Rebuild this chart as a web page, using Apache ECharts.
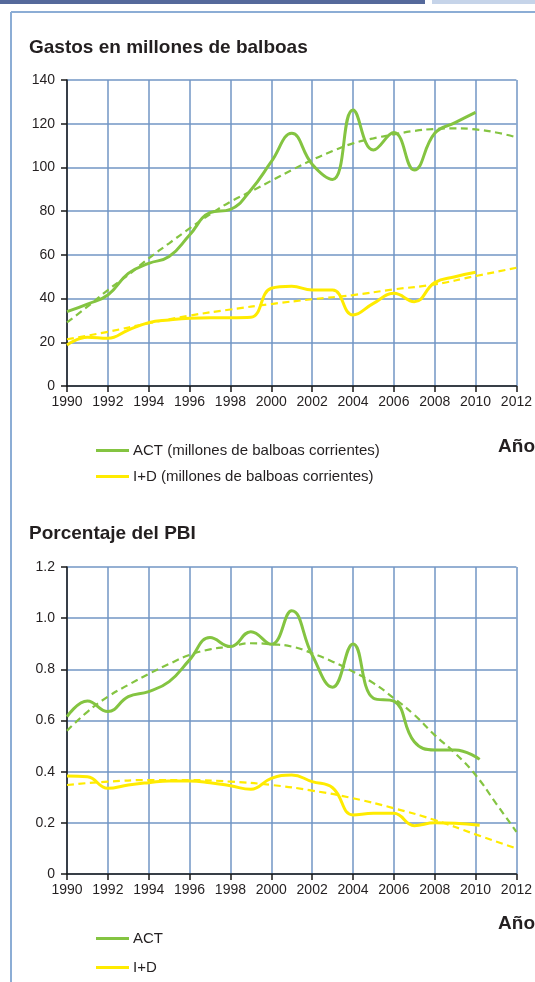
<!DOCTYPE html>
<html>
<head>
<meta charset="utf-8">
<script src="https://cdn.jsdelivr.net/npm/echarts@6/dist/echarts.min.js"></script>
<style>
html,body{margin:0;padding:0;background:#fff;}
#c{width:535px;height:982px;}
</style>
</head>
<body>
<div id="c"></div>
<script>
// ---- Data ----
const yearsGasto = [1990,1991,1992,1993,1994,1995,1996,1997,1998,1999,2000,2001,2002,2003,2004,2005,2006,2007,2008,2009,2010];
const actGasto = [34,37.5,41.6,51.5,56.1,59.2,69.1,79.3,80.8,89.7,102.6,115.6,101.5,94.5,126.3,108,116,98.8,115.6,120.5,125.2];
const idGasto = [18.8,22.3,21.8,25.6,29,30.2,31,31.2,31.2,31.4,44.7,45.6,43.9,43.9,32.5,37.8,42.4,38.6,47.3,50,52];

const trendYears = [1990,1991,1992,1993,1994,1995,1996,1997,1998,1999,2000,2001,2002,2003,2004,2005,2006,2007,2008,2009,2010,2011,2012];
const actGastoTrend = [29.1,36.3,43.9,50.8,58.4,65.3,72.1,78.5,84.3,89,93.9,98.8,103.4,107.5,111,113.3,115.1,116.7,117.6,117.9,117.4,116,113.8];
const trendYears2 = [1990,1992,1994,1996,1998,2000,2002,2004,2006,2008,2010,2012];
const idGastoTrend = [21.4,24.8,28.7,32.2,35,37.5,39.7,41.6,44.2,46.5,50.3,54.1];

const yearsPct = [1990,1991,1992,1993,1994,1995,1996,1997,1998,1999,2000,2001,2002,2003,2004,2005,2006,2007,2008,2009,2010.2];
const actPct = [0.615,0.676,0.635,0.693,0.713,0.752,0.837,0.924,0.889,0.947,0.898,1.029,0.856,0.73,0.899,0.687,0.676,0.517,0.485,0.485,0.448];
const idPct = [0.383,0.38,0.335,0.348,0.357,0.364,0.364,0.357,0.345,0.331,0.374,0.387,0.361,0.337,0.231,0.237,0.237,0.189,0.2,0.198,0.191];
const actPctTrend = [0.56,0.634,0.693,0.739,0.782,0.821,0.856,0.878,0.889,0.902,0.898,0.889,0.863,0.83,0.791,0.746,0.687,0.622,0.543,0.472,0.387,0.276,0.165];
const idPctTrend = [0.348,0.361,0.367,0.367,0.361,0.348,0.326,0.296,0.257,0.211,0.155,0.1];

const xTicks = {min:1990, max:2012, interval:2};
const names = {
  act1: 'ACT (millones de balboas corrientes)',
  id1: 'I+D (millones de balboas corrientes)',
  act2: 'ACT',
  id2: 'I+D'
};

// ---- Styles ----
const GREEN = '#84c441';
const YELLOW = '#ffeb00';
const GRIDC = '#7296c4';
const TXT = '#231f20';
const FONT = '"Liberation Sans", Arial, sans-serif';

function zip(xs, ys){ return xs.map((x,i)=>[x, ys[i]]); }

function xAxis(gi){
  return {
    type:'value', gridIndex:gi, min:xTicks.min, max:xTicks.max, interval:xTicks.interval,
    axisLine:{show:true, onZero:false, lineStyle:{color:'#1a1a1a', width:1.5}},
    axisTick:{show:true, length:6, lineStyle:{color:'#1a1a1a', width:1.5}},
    axisLabel:{color:TXT, fontSize:14, fontFamily:FONT, margin:9, formatter:v=>String(v)},
    splitLine:{show:true, lineStyle:{color:GRIDC, width:1.5}}
  };
}
function yAxis(gi, max, interval, fmt){
  return {
    type:'value', gridIndex:gi, min:0, max:max, interval:interval,
    axisLine:{show:true, lineStyle:{color:'#1a1a1a', width:1.5}},
    axisTick:{show:true, length:6, inside:false, lineStyle:{color:'#1a1a1a', width:1.5}},
    axisLabel:{color:TXT, fontSize:14, fontFamily:FONT, margin:12, formatter:fmt},
    splitLine:{show:true, lineStyle:{color:GRIDC, width:1.5}}
  };
}
function solid(name, gi, data, color){
  return {type:'line', name:name, xAxisIndex:gi, yAxisIndex:gi, data:data, smooth:0.45,
    showSymbol:false, symbol:'none', z:5, itemStyle:{color:color},
    lineStyle:{color:color, width:3}};
}
function dashed(name, gi, data, color){
  return {type:'line', name:name, xAxisIndex:gi, yAxisIndex:gi, data:data, smooth:0.5,
    showSymbol:false, symbol:'none', z:4, itemStyle:{color:color},
    lineStyle:{color:color, width:2.2, type:[7,4.5]}};
}
function legend(top, gap, data){
  return {left:96, top:top, orient:'vertical', itemWidth:33, itemHeight:3, itemGap:gap,
    icon:'rect', selectedMode:false, padding:0, data:data,
    textStyle:{color:TXT, fontSize:15, fontFamily:FONT, padding:[0,0,0,-1]}};
}

const chart = echarts.init(document.getElementById('c'), null, {renderer:'canvas'});
chart.setOption({
  animation:false,
  backgroundColor:'#ffffff',
  title:[
    {text:'Gastos en millones de balboas', left:29, top:38, padding:0,
     textStyle:{fontSize:19, fontWeight:'bold', color:TXT, fontFamily:FONT}},
    {text:'Año', right:0, top:437, padding:0,
     textStyle:{fontSize:19, fontWeight:'bold', color:TXT, fontFamily:FONT}},
    {text:'Porcentaje del PBI', left:29, top:524, padding:0,
     textStyle:{fontSize:19, fontWeight:'bold', color:TXT, fontFamily:FONT}},
    {text:'Año', right:0, top:914, padding:0,
     textStyle:{fontSize:19, fontWeight:'bold', color:TXT, fontFamily:FONT}}
  ],
  legend:[
    legend(443, 11, [names.act1, names.id1]),
    legend(931, 14, [names.act2, names.id2])
  ],
  grid:[
    {left:67, right:17, top:80, height:306},
    {left:67, right:17, top:567, height:307}
  ],
  xAxis:[xAxis(0), xAxis(1)],
  yAxis:[
    yAxis(0, 140, 20, v=>String(v)),
    yAxis(1, 1.2, 0.2, v=> v===0 ? '0' : v.toFixed(1))
  ],
  series:[
    dashed('tendencia ACT 1', 0, zip(trendYears, actGastoTrend), GREEN),
    dashed('tendencia I+D 1', 0, zip(trendYears2, idGastoTrend), YELLOW),
    solid(names.act1, 0, zip(yearsGasto, actGasto), GREEN),
    solid(names.id1, 0, zip(yearsGasto, idGasto), YELLOW),
    dashed('tendencia ACT 2', 1, zip(trendYears, actPctTrend), GREEN),
    dashed('tendencia I+D 2', 1, zip(trendYears2, idPctTrend), YELLOW),
    solid(names.act2, 1, zip(yearsPct, actPct), GREEN),
    solid(names.id2, 1, zip(yearsPct, idPct), YELLOW)
  ],
  graphic:[
    {type:'rect', left:0, top:0, shape:{width:425, height:4}, style:{fill:'#55699b'}, silent:true},
    {type:'rect', left:432, top:0, shape:{width:103, height:4}, style:{fill:'#c6d4e9'}, silent:true},
    {type:'line', shape:{x1:11, y1:12, x2:535, y2:12}, style:{stroke:'#8cadd5', lineWidth:2}, silent:true},
    {type:'line', shape:{x1:11, y1:12, x2:11, y2:982}, style:{stroke:'#8cadd5', lineWidth:2}, silent:true}
  ]
});
</script>
</body>
</html>
